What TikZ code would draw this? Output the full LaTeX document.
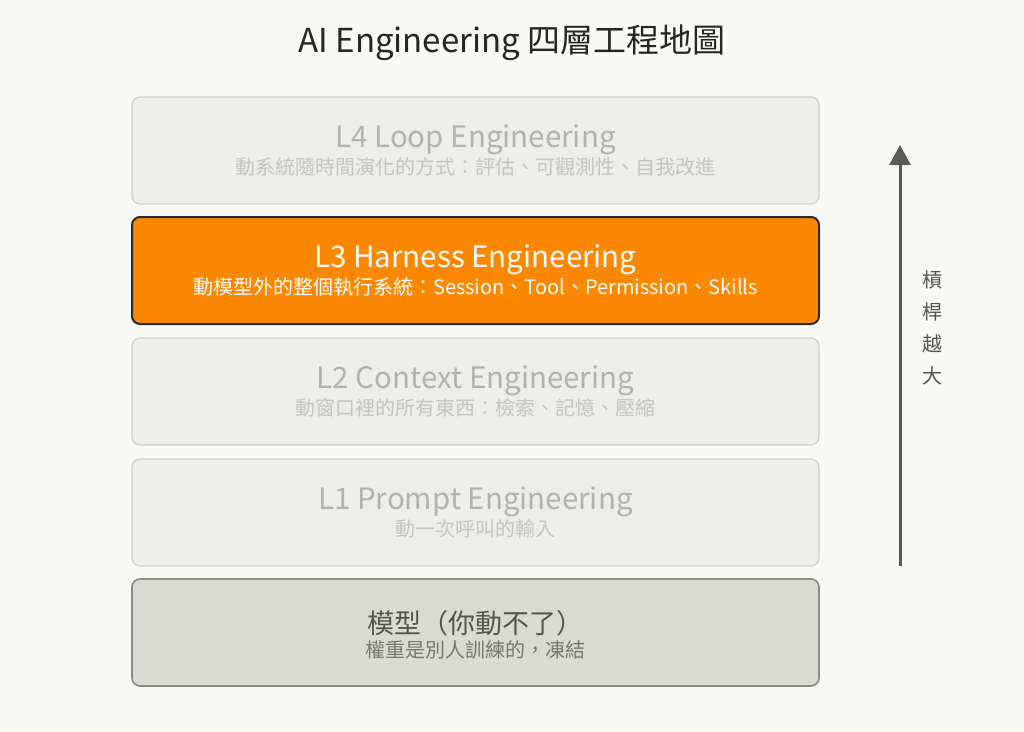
\documentclass[tikz,border=0pt]{standalone}
\usepackage{fontspec}
\setmainfont{Noto Sans CJK TC}
\usetikzlibrary{positioning, arrows.meta}

\definecolor{bgcol}{HTML}{F9F9F5}
\definecolor{dimfill}{HTML}{EDEDE9}
\definecolor{dimline}{HTML}{D0D0CA}
\definecolor{dimmain}{HTML}{B3B3AD}
\definecolor{dimsub}{HTML}{C6C6C0}
\definecolor{hotfill}{HTML}{FC8700}
\definecolor{hotline}{HTML}{2B2B2B}
\definecolor{basefill}{HTML}{DADAD4}
\definecolor{baseline}{HTML}{8A8A85}
\definecolor{basemain}{HTML}{555550}
\definecolor{basesub}{HTML}{77776F}
\definecolor{arrcol}{HTML}{5A5A55}

\tikzset{
	layer/.style={rounded corners=8pt, minimum width=687pt, minimum height=107pt, line width=1.2pt, inner sep=0pt},
	dimlayer/.style={layer, draw=dimline, fill=dimfill},
	hotlayer/.style={layer, draw=hotline, fill=hotfill, line width=2pt},
	baselayer/.style={layer, draw=baseline, fill=basefill, line width=1.6pt},
	maintext/.style={font=\fontsize{29.5}{34}\selectfont, inner sep=0pt, anchor=base},
	subtext/.style={font=\fontsize{20}{24}\selectfont, inner sep=0pt, anchor=base}
}

\begin{document}
\begin{tikzpicture}[x=1pt, y=-1pt]
	% canvas
	\fill[bgcol] (0,0) rectangle (1024,731);
	\useasboundingbox (0,0) rectangle (1024,731);
	\node[font=\fontsize{33}{36}\selectfont, text=black!85, anchor=base, inner sep=0pt] (title) at (512,52) {AI Engineering 四層工程地圖};
	% layers
	\node[dimlayer] (l4) at (475.5,150.5) {};
	\node[hotlayer] (l3) at (475.5,270.5) {};
	\node[dimlayer] (l2) at (475.5,391.5) {};
	\node[dimlayer] (l1) at (475.5,512.5) {};
	\node[baselayer] (mdl) at (475.5,632.5) {};
	% labels
	\node[maintext, text=dimmain] (l4t) at ([yshift=3.5pt]l4.center) {L4 Loop Engineering};
	\node[subtext, text=dimsub] (l4s) at ([yshift=-24pt]l4.center) {動系統隨時間演化的方式：評估、可觀測性、自我改進};
	\node[maintext, text=white] (l3t) at ([yshift=3.5pt]l3.center) {L3 Harness Engineering};
	\node[subtext, text=white] (l3s) at ([yshift=-24pt]l3.center) {動模型外的整個執行系統：Session、Tool、Permission、Skills};
	\node[maintext, text=dimmain] (l2t) at ([yshift=3.5pt]l2.center) {L2 Context Engineering};
	\node[subtext, text=dimsub] (l2s) at ([yshift=-24pt]l2.center) {動窗口裡的所有東西：檢索、記憶、壓縮};
	\node[maintext, text=dimmain] (l1t) at ([yshift=3.5pt]l1.center) {L1 Prompt Engineering};
	\node[subtext, text=dimsub] (l1s) at ([yshift=-24pt]l1.center) {動一次呼叫的輸入};
	\node[maintext, text=basemain, font=\fontsize{27}{30}\selectfont] (mdlt) at ([yshift=-1pt]mdl.center) {模型（你動不了）};
	\node[subtext, text=basesub] (mdls) at ([yshift=-25pt]mdl.center) {權重是別人訓練的，凍結};
	% leverage arrow
	\coordinate (arrbot) at (900,566);
	\coordinate (arrtop) at (900,145);
	\draw[arrcol, line width=3pt, -{Triangle[length=20pt, width=21pt]}] (arrbot) -- (arrtop);
	\node[font=\fontsize{20}{32}\selectfont, text=basemain, align=center] (lev) at (932,328) {槓\\桿\\越\\大};
\end{tikzpicture}
\end{document}
